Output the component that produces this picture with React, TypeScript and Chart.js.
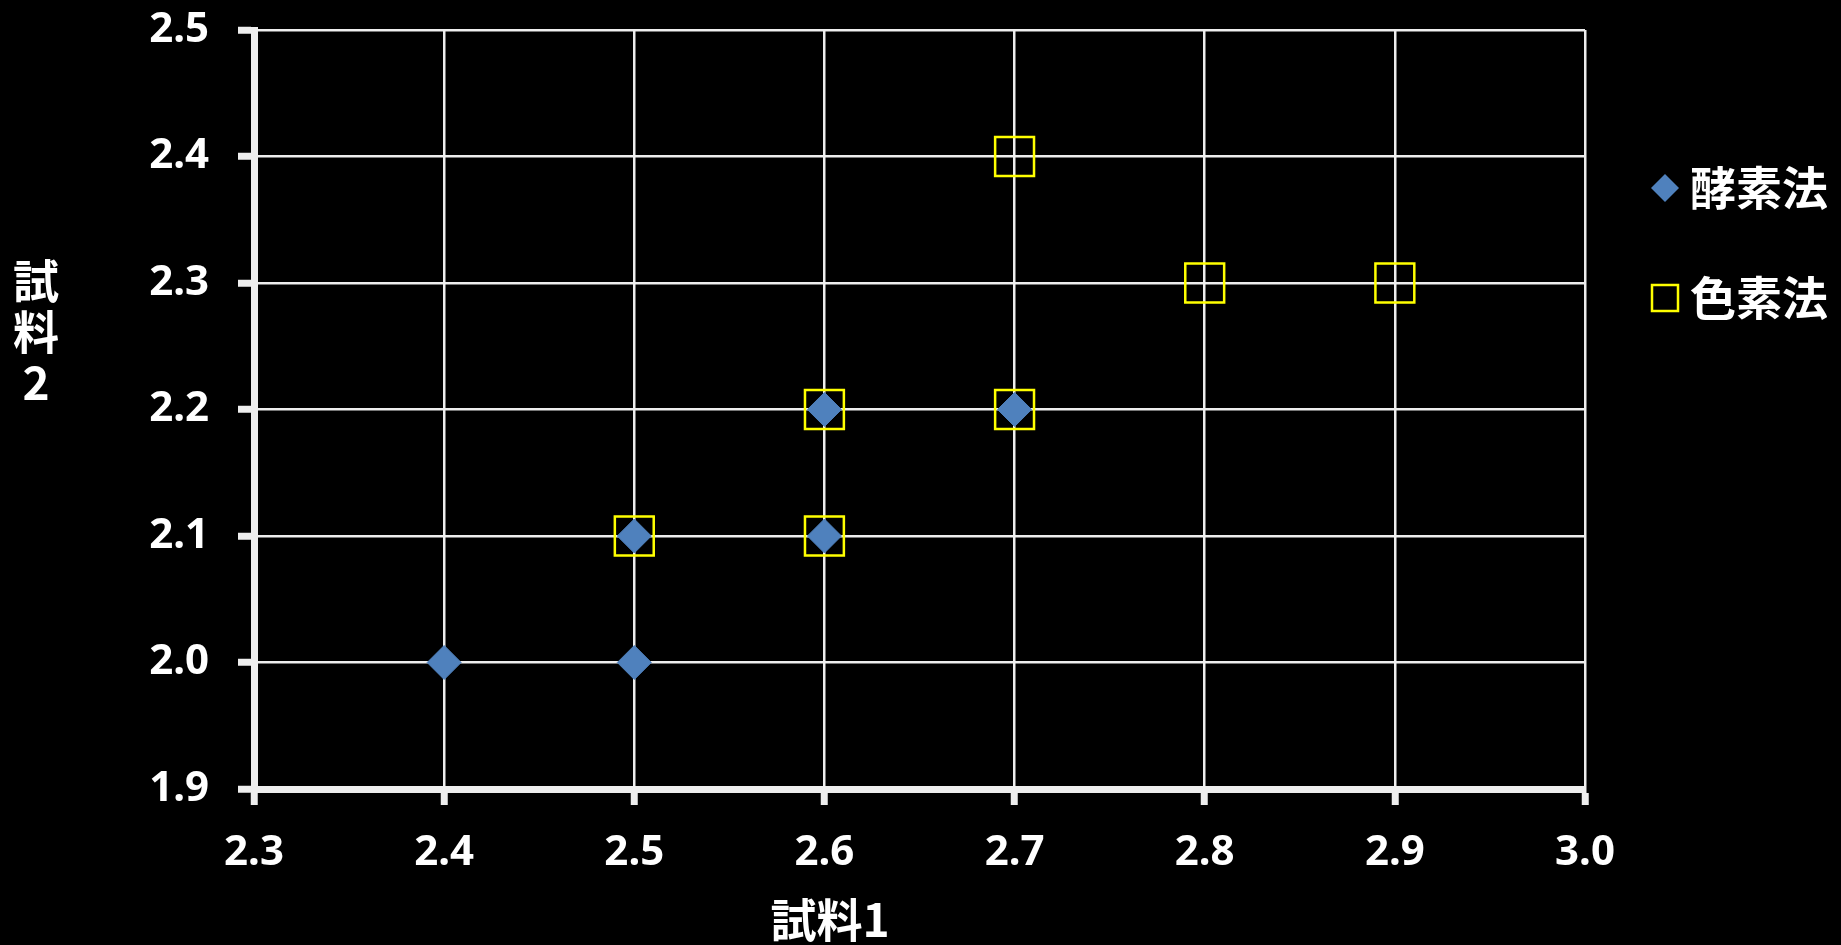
import React, { useEffect, useRef } from 'react';
import { Chart, registerables } from 'chart.js';

Chart.register(...registerables);

// Axis tick values
const xTickValues = [2.3, 2.4, 2.5, 2.6, 2.7, 2.8, 2.9, 3.0];
const yTickValues = [1.9, 2.0, 2.1, 2.2, 2.3, 2.4, 2.5];

// Series
const seriesNames = ['酵素法', '色素法'];
const enzymeX = [2.4, 2.5, 2.5, 2.6, 2.6, 2.7];
const enzymeY = [2.0, 2.0, 2.1, 2.1, 2.2, 2.2];
const dyeX = [2.5, 2.6, 2.6, 2.7, 2.7, 2.8, 2.9];
const dyeY = [2.1, 2.1, 2.2, 2.2, 2.4, 2.3, 2.3];

// Axis titles
const xAxisTitle = '試料1';
const yAxisTitle = ['試', '料', '2'];

const W = 1841;
const H = 945;
const GRID = '#eeeeee';
const BLUE = '#4f81bd';
const YELLOW = '#ffff00';
const TICK_FONT = { family: '"Noto Sans", "DejaVu Sans", sans-serif', size: 42, weight: 'bold' as const };
const CJK_FAMILY = '"Noto Sans CJK JP", sans-serif';

// Small legend glyphs; the shape is drawn `shift` px right of the image centre.
function legendIcon(kind: 'diamond' | 'square', shift: number): HTMLCanvasElement {
  const c = document.createElement('canvas');
  const half = 16 + shift;
  c.width = half * 2;
  c.height = 34;
  const g = c.getContext('2d')!;
  const cx = half + shift;
  const cy = 17;
  if (kind === 'diamond') {
    g.fillStyle = BLUE;
    g.beginPath();
    g.moveTo(cx - 14, cy);
    g.lineTo(cx, cy - 14);
    g.lineTo(cx + 14, cy);
    g.lineTo(cx, cy + 14);
    g.closePath();
    g.fill();
  } else {
    g.strokeStyle = YELLOW;
    g.lineWidth = 2.5;
    g.strokeRect(cx - 13, cy - 13, 26, 26);
  }
  return c;
}

// Draws the x title under the axis and the stacked y title at the left.
const axisTitlePlugin = {
  id: 'axisTitles',
  afterDraw(chart: Chart) {
    const { ctx } = chart;
    ctx.save();
    ctx.fillStyle = '#ffffff';
    ctx.font = `bold 46px ${CJK_FAMILY}`;
    ctx.textAlign = 'center';
    ctx.textBaseline = 'middle';
    ctx.fillText(xAxisTitle, 830, 920);
    yAxisTitle.forEach((s, i) => ctx.fillText(s, 36, 281 + i * 51));
    ctx.restore();
  },
};

export default function App() {
  const ref = useRef<HTMLCanvasElement>(null);

  useEffect(() => {
    if (!ref.current) return;
    const icons = [legendIcon('diamond', 7), legendIcon('square', 7)];

    const chart = new Chart(ref.current, {
      type: 'scatter',
      data: {
        datasets: [
          {
            label: seriesNames[0],
            data: enzymeX.map((x, i) => ({ x, y: enzymeY[i] })),
            pointStyle: 'rectRot',
            pointRadius: 17,
            pointHoverRadius: 17,
            backgroundColor: BLUE,
            borderColor: BLUE,
            borderWidth: 1,
          },
          {
            label: seriesNames[1],
            data: dyeX.map((x, i) => ({ x, y: dyeY[i] })),
            pointStyle: 'rect',
            pointRadius: 27.5,
            pointHoverRadius: 27.5,
            backgroundColor: 'rgba(0,0,0,0)',
            borderColor: YELLOW,
            borderWidth: 2.5,
          },
        ],
      },
      options: {
        responsive: false,
        devicePixelRatio: 1,
        animation: false,
        events: [],
        layout: { padding: { top: 29, right: 3, bottom: 0, left: 0 } },
        scales: {
          x: {
            type: 'linear',
            min: 2.3,
            max: 3.0,
            afterBuildTicks: (s: any) => {
              s.ticks = xTickValues.map((value) => ({ value }));
            },
            afterFit: (s: any) => {
              s.height = 156;
            },
            grid: { color: GRID, lineWidth: 2.5, tickLength: 16, tickWidth: 7, tickColor: GRID },
            border: { display: true, color: GRID, width: 7 },
            ticks: {
              color: '#ffffff',
              font: TICK_FONT,
              padding: 23,
              maxRotation: 0,
              autoSkip: false,
              callback: (v: any) => Number(v).toFixed(1),
            },
          },
          y: {
            type: 'linear',
            min: 1.9,
            max: 2.5,
            afterBuildTicks: (s: any) => {
              s.ticks = yTickValues.map((value) => ({ value }));
            },
            afterFit: (s: any) => {
              s.width = 254;
              s.paddingTop = 0;
              s.paddingBottom = 0;
            },
            grid: { color: GRID, lineWidth: 2.5, tickLength: 16, tickWidth: 7, tickColor: GRID },
            border: { display: true, color: GRID, width: 7 },
            ticks: {
              color: '#ffffff',
              font: TICK_FONT,
              padding: 29,
              autoSkip: false,
              callback: (v: any) => Number(v).toFixed(1),
            },
          },
        },
        plugins: {
          tooltip: { enabled: false },
          legend: {
            position: 'right',
            align: 'start',
            title: { display: true, text: ' ', font: { size: 10 }, padding: { top: 0, bottom: 60 } },
            labels: {
              usePointStyle: true,
              boxWidth: 18,
              padding: 64,
              color: '#ffffff',
              font: { family: CJK_FAMILY, size: 46, weight: 'bold' },
              generateLabels: (c: any) =>
                c.data.datasets.map((ds: any, i: number) => ({
                  text: ds.label,
                  pointStyle: icons[i],
                  fillStyle: ds.backgroundColor,
                  strokeStyle: ds.borderColor,
                  lineWidth: 0,
                  fontColor: '#ffffff',
                  hidden: false,
                  datasetIndex: i,
                })),
            },
          },
        },
      },
      plugins: [axisTitlePlugin],
    });

    return () => chart.destroy();
  }, []);

  return (
    <div style={{ position: 'fixed', left: 0, top: 0, width: W, height: H, background: '#000000', overflow: 'hidden' }}>
      <canvas ref={ref} width={W} height={H} style={{ display: 'block', width: W, height: H }} />
    </div>
  );
}
